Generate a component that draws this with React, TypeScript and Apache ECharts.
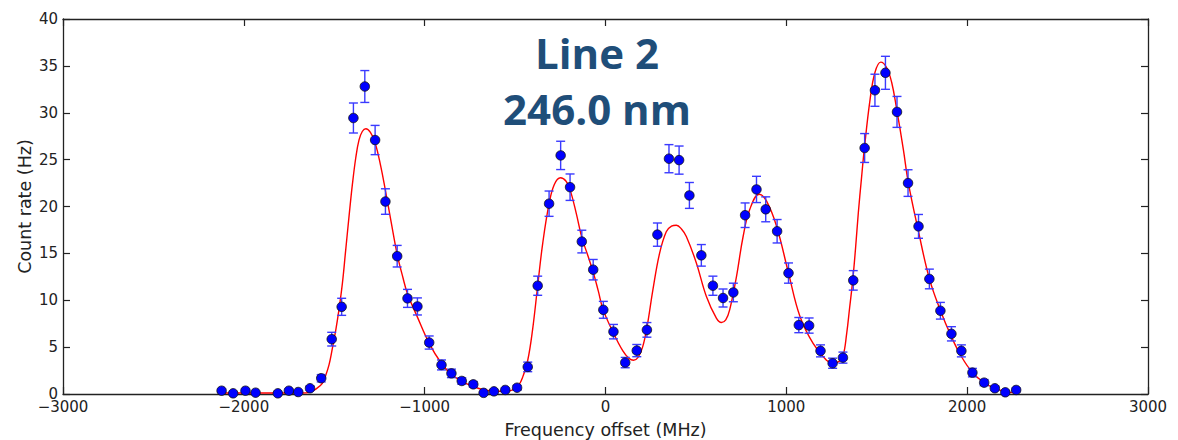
import React, { useEffect, useRef } from "react";
import * as echarts from "echarts";

// Measured points (frequency offset in MHz, count rate in Hz, error in Hz)
const freqMHz = [
  -2123, -2059, -1991, -1935, -1812, -1751, -1699, -1634, -1572, -1514, -1459,
  -1394, -1331, -1274, -1217, -1152, -1095, -1040, -975, -907, -852, -795,
  -731, -674, -617, -554, -489, -430, -375, -312, -248, -196, -131, -68, -12,
  44, 109, 173, 229, 287, 351, 407, 464, 530, 594, 650, 707, 772, 835, 886,
  949, 1012, 1069, 1126, 1189, 1256, 1313, 1370, 1433, 1490, 1548, 1612, 1673,
  1731, 1791, 1852, 1913, 1968, 2029, 2094, 2153, 2211, 2271,
];
const countRate = [
  0.35, 0.07, 0.35, 0.14, 0.07, 0.35, 0.21, 0.61, 1.68, 5.85, 9.3,
  29.44, 32.8, 27.09, 20.53, 14.7, 10.2, 9.34, 5.49, 3.1, 2.2, 1.39,
  1.03, 0.12, 0.28, 0.43, 0.67, 2.89, 11.55, 20.3, 25.45, 22.06, 16.26, 13.26, 8.98,
  6.65, 3.35, 4.63, 6.84, 17.0, 25.1, 24.95, 21.18, 14.79, 11.55, 10.24, 10.83, 19.07, 21.82, 19.7,
  17.36, 12.9, 7.35, 7.3, 4.6, 3.28, 3.88, 12.12, 26.24, 32.4, 34.26, 30.09, 22.5,
  17.88, 12.27, 8.88, 6.42, 4.6, 2.28, 1.21, 0.61, 0.18, 0.43,
];
const countErr = [
  0.18, 0.08, 0.18, 0.11, 0.08, 0.18, 0.14, 0.23, 0.39, 0.73, 0.91,
  1.6, 1.7, 1.56, 1.36, 1.15, 0.96, 0.91, 0.7, 0.53, 0.45, 0.35,
  0.3, 0.12, 0.16, 0.2, 0.25, 0.51, 1.02, 1.35, 1.51, 1.41, 1.21, 1.09, 0.9,
  0.77, 0.55, 0.65, 0.78, 1.24, 1.5, 1.5, 1.38, 1.15, 1.02, 0.96, 0.99, 1.31, 1.4, 1.33,
  1.25, 1.08, 0.81, 0.81, 0.64, 0.54, 0.59, 1.04, 1.54, 1.71, 1.76, 1.65, 1.42,
  1.27, 1.05, 0.89, 0.76, 0.64, 0.45, 0.33, 0.23, 0.13, 0.2,
];

// Fit curve
const fitX = [
  -2130, -1950, -1800, -1700, -1655, -1630, -1600, -1566, -1547, -1529, -1514,
  -1490, -1474, -1455, -1437, -1418, -1400, -1381, -1363, -1345, -1325, -1300,
  -1274, -1243, -1217, -1185, -1152, -1120, -1095, -1040, -975, -907, -852, -795,
  -731, -674, -617, -560, -513, -480, -458, -430, -403, -375, -347, -312, -283,
  -249, -218, -196, -162, -131, -100, -68, -40, -13, 44, 96, 130, 155, 180, 205,
  230, 262, 299, 336, 365, 392, 420, 447, 502, 558, 613, 641, 665, 687, 724, 761,
  798, 850, 890, 946, 1012, 1075, 1148, 1222, 1259, 1290, 1313, 1334, 1350, 1367,
  1383, 1398, 1415, 1431, 1463, 1490, 1522, 1555, 1583, 1610, 1647, 1675, 1729,
  1791, 1852, 1913, 1968, 2029, 2094, 2153, 2211, 2271,
];
const fitY = [
  0.1, 0.1, 0.1, 0.1, 0.12, 0.25, 0.55, 1.14, 2.0, 3.1, 4.5,
  7.0, 9.0, 11.8, 15.3, 19.0, 22.3, 25.2, 27.1, 28.0, 28.3, 27.9,
  26.8, 24.3, 21.7, 18.3, 14.9, 12.4, 10.7, 8.2, 5.4, 3.25, 2.1, 1.35,
  0.8, 0.45, 0.3, 0.3, 0.45, 0.95, 1.8, 3.6, 6.9, 11.55, 16.1, 20.3, 22.35,
  23.07, 22.7, 21.8, 19.3, 16.7, 14.9, 13.0, 11.0, 9.0, 6.5, 4.6, 3.8, 3.6, 3.9, 5.0,
  7.2, 11.1, 15.0, 17.3, 17.9, 18.0, 17.6, 16.8, 14.0, 10.4, 8.1, 7.63, 7.9, 9.0, 12.5, 16.8,
  19.7, 21.3, 20.6, 17.9, 12.9, 8.3, 5.4, 3.6, 3.28, 3.45, 4.0, 6.5, 9.2, 12.1,
  15.6, 19.3, 22.9, 26.1, 31.4, 34.3, 35.4, 34.8, 33.2, 30.4, 26.1, 22.5, 17.5,
  12.3, 8.9, 6.1, 4.0, 2.3, 1.2, 0.6, 0.25, 0.1,
];

const xTickValues = [-3000, -2000, -1000, 0, 1000, 2000, 3000];
const xTickLabels = ["\u22123000", "\u22122000", "\u22121000", "0", "1000", "2000", "3000"];
const yTickValues = [0, 5, 10, 15, 20, 25, 30, 35, 40];
const yTickLabels = ["0", "5", "10", "15", "20", "25", "30", "35", "40"];

const titleLines = ["Line 2", "246.0 nm"];
const xAxisName = "Frequency offset (MHz)";
const yAxisName = "Count rate (Hz)";

export default function App() {
  const ref = useRef<HTMLDivElement>(null);

  useEffect(() => {
    document.body.style.margin = "0";
    if (!ref.current) return;
    const chart = echarts.init(ref.current, null, { renderer: "svg" });

    const axisFont = "DejaVu Sans";
    const axisColor = "#222";
    const pointData = freqMHz.map((x, i) => [x, countRate[i], countErr[i]]);
    const fitData = fitX.map((x, i) => [x, fitY[i]]);

    const lineStyle = { color: axisColor, width: 1.3 };
    const tick = { show: true, inside: true, length: 7, lineStyle: { color: axisColor, width: 1.2 } };

    chart.setOption({
      animation: false,
      backgroundColor: "#ffffff",
      grid: {
        left: 63,
        right: 30,
        top: 19,
        bottom: 46,
        containLabel: false,
        outerBoundsMode: "none",
      },
      xAxis: [
        {
          type: "value",
          position: "bottom",
          min: -3000,
          max: 3000,
          interval: 1000,
          axisLine: { show: true, onZero: false, lineStyle },
          axisTick: tick,
          splitLine: { show: false },
          axisLabel: {
            color: axisColor,
            fontFamily: axisFont,
            fontSize: 15,
            margin: 5,
            formatter: (v: number) => {
              const i = xTickValues.indexOf(v);
              return i >= 0 ? xTickLabels[i] : "";
            },
          },
          name: xAxisName,
          nameLocation: "middle",
          nameGap: 27,
          nameMoveOverlap: false,
          nameTextStyle: { color: axisColor, fontFamily: axisFont, fontSize: 17.5 },
        },
        {
          type: "value",
          position: "top",
          min: -3000,
          max: 3000,
          interval: 1000,
          axisLine: { show: true, onZero: false, lineStyle },
          axisTick: tick,
          splitLine: { show: false },
          axisLabel: { show: false },
        },
      ],
      yAxis: [
        {
          type: "value",
          position: "left",
          min: 0,
          max: 40,
          interval: 5,
          axisLine: { show: true, onZero: false, lineStyle },
          axisTick: tick,
          splitLine: { show: false },
          axisLabel: {
            color: axisColor,
            fontFamily: axisFont,
            fontSize: 15,
            margin: 5,
            formatter: (v: number) => {
              const i = yTickValues.indexOf(v);
              return i >= 0 ? yTickLabels[i] : "";
            },
          },
          name: yAxisName,
          nameLocation: "middle",
          nameGap: 29,
          nameRotate: 90,
          nameMoveOverlap: false,
          nameTextStyle: { color: axisColor, fontFamily: axisFont, fontSize: 17.5 },
        },
        {
          type: "value",
          position: "right",
          min: 0,
          max: 40,
          interval: 5,
          axisLine: { show: true, onZero: false, lineStyle },
          axisTick: tick,
          splitLine: { show: false },
          axisLabel: { show: false },
        },
      ],
      series: [
        {
          type: "line",
          name: "fit",
          data: fitData,
          xAxisIndex: 0,
          yAxisIndex: 0,
          smooth: 0.4,
          showSymbol: false,
          symbol: "none",
          lineStyle: { color: "#ff0000", width: 1.4 },
          z: 2,
        },
        {
          type: "custom",
          name: "errors",
          xAxisIndex: 0,
          yAxisIndex: 0,
          data: pointData,
          encode: { x: 0, y: 1 },
          z: 3,
          renderItem: (_params: any, api: any) => {
            const x = api.value(0);
            const y = api.value(1);
            const e = api.value(2);
            const hi = api.coord([x, y + e]);
            const lo = api.coord([x, y - e]);
            const cw = 4.5;
            const st = { stroke: "#3a3aff", lineWidth: 1.4 };
            return {
              type: "group",
              children: [
                { type: "line", shape: { x1: hi[0], y1: hi[1], x2: lo[0], y2: lo[1] }, style: st },
                { type: "line", shape: { x1: hi[0] - cw, y1: hi[1], x2: hi[0] + cw, y2: hi[1] }, style: st },
                { type: "line", shape: { x1: lo[0] - cw, y1: lo[1], x2: lo[0] + cw, y2: lo[1] }, style: st },
              ],
            };
          },
        },
        {
          type: "scatter",
          name: "data",
          xAxisIndex: 0,
          yAxisIndex: 0,
          data: pointData.map((p) => [p[0], p[1]]),
          symbol: "circle",
          symbolSize: 9.5,
          itemStyle: { color: "#0000ff", borderColor: "#111", borderWidth: 0.8, opacity: 1 },
          z: 4,
        },
      ],
      graphic: [
        {
          type: "text",
          x: 597,
          y: 52,
          style: {
            text: titleLines[0],
            fill: "#1f4e79",
            fontFamily: "Open Sans",
            fontWeight: "bold",
            fontSize: 42,
            align: "center",
            verticalAlign: "middle",
          },
          z: 10,
        },
        {
          type: "text",
          x: 597,
          y: 108,
          style: {
            text: titleLines[1],
            fill: "#1f4e79",
            fontFamily: "Open Sans",
            fontWeight: "bold",
            fontSize: 42,
            align: "center",
            verticalAlign: "middle",
          },
          z: 10,
        },
      ],
    });

    return () => chart.dispose();
  }, []);

  return <div ref={ref} style={{ width: 1178, height: 440 }} />;
}
